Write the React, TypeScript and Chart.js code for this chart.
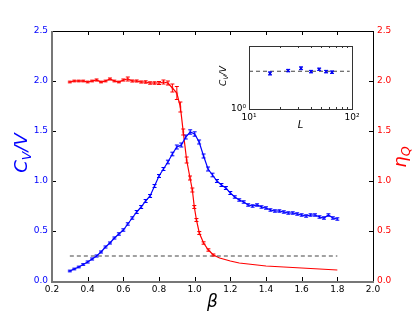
import React, { useEffect, useRef } from 'react';
import { Chart, registerables } from 'chart.js';
Chart.register(...registerables);

// ---------- data ----------
const betaCv = [
  0.3, 0.325, 0.35, 0.375, 0.4, 0.425, 0.45, 0.475, 0.5, 0.525,
  0.55, 0.575, 0.6, 0.625, 0.65, 0.675, 0.7, 0.725, 0.75, 0.775,
  0.8, 0.825, 0.85, 0.875, 0.9, 0.925, 0.95, 0.975, 1.0, 1.025,
  1.05, 1.075, 1.1, 1.125, 1.15, 1.175, 1.2, 1.225, 1.25, 1.275,
  1.3, 1.325, 1.35, 1.375, 1.4, 1.425, 1.45, 1.475, 1.5, 1.525,
  1.55, 1.575, 1.6, 1.625, 1.65, 1.675, 1.7, 1.725, 1.75, 1.775, 1.8,
];
const cvValues = [
  0.10, 0.12, 0.14, 0.165, 0.19, 0.22, 0.25, 0.29, 0.34, 0.38,
  0.43, 0.47, 0.51, 0.57, 0.63, 0.69, 0.74, 0.80, 0.85, 0.95,
  1.05, 1.12, 1.19, 1.27, 1.34, 1.36, 1.44, 1.49, 1.47, 1.39,
  1.25, 1.12, 1.06, 1.00, 0.96, 0.93, 0.88, 0.84, 0.81, 0.79,
  0.76, 0.75, 0.76, 0.74, 0.73, 0.71, 0.70, 0.70, 0.69, 0.68,
  0.68, 0.67, 0.66, 0.65, 0.66, 0.66, 0.64, 0.63, 0.66, 0.63, 0.62,
];
const cvErrors = [
  0.008, 0.008, 0.008, 0.008, 0.01, 0.01, 0.01, 0.01, 0.01, 0.01,
  0.01, 0.012, 0.012, 0.012, 0.012, 0.015, 0.015, 0.015, 0.015, 0.015,
  0.015, 0.015, 0.018, 0.018, 0.02, 0.02, 0.02, 0.022, 0.022, 0.02,
  0.02, 0.02, 0.018, 0.015, 0.015, 0.015, 0.015, 0.012, 0.012, 0.012,
  0.012, 0.012, 0.012, 0.012, 0.012, 0.012, 0.012, 0.012, 0.012, 0.012,
  0.012, 0.012, 0.012, 0.012, 0.012, 0.012, 0.012, 0.012, 0.012, 0.012, 0.012,
];

const betaEta = [
  0.3, 0.325, 0.35, 0.375, 0.4, 0.425, 0.45, 0.475, 0.5, 0.525,
  0.55, 0.575, 0.6, 0.625, 0.65, 0.675, 0.7, 0.725, 0.75, 0.775,
  0.8, 0.825, 0.85, 0.875, 0.9, 0.92, 0.936, 0.955, 0.974, 0.987,
  0.998, 1.01, 1.026, 1.05, 1.077, 1.105, 1.14, 1.2, 1.25, 1.3,
  1.35, 1.4, 1.5, 1.6, 1.7, 1.8,
];
const etaValues = [
  1.99, 2.00, 2.00, 2.00, 1.99, 2.00, 2.01, 1.99, 2.00, 2.02,
  2.00, 1.99, 2.01, 2.02, 2.00, 2.00, 1.99, 1.99, 1.98, 1.98,
  1.98, 1.99, 1.98, 1.93, 1.88, 1.74, 1.49, 1.21, 1.03, 0.91,
  0.74, 0.61, 0.48, 0.38, 0.31, 0.26, 0.23, 0.20, 0.18, 0.17,
  0.16, 0.15, 0.14, 0.13, 0.12, 0.11,
];
const etaErrors = [
  0.008, 0.008, 0.008, 0.008, 0.008, 0.008, 0.01, 0.008, 0.008, 0.01,
  0.008, 0.008, 0.01, 0.02, 0.01, 0.01, 0.01, 0.012, 0.012, 0.012,
  0.015, 0.02, 0.02, 0.04, 0.065, 0.05, 0.03, 0.03, 0.02, 0.02,
  0.015, 0.015, 0.015, 0.012, 0.012, 0.01, 0, 0, 0, 0,
  0, 0, 0, 0, 0, 0,
];

const refBeta = [0.3, 1.8];
const refValue = 0.25;

const xTickValues = [0.2, 0.4, 0.6, 0.8, 1.0, 1.2, 1.4, 1.6, 1.8, 2.0];
const yTickValues = [0.0, 0.5, 1.0, 1.5, 2.0, 2.5];

const insetL = [16, 24, 32, 40, 48, 56, 64];
const insetCv = [1.86, 1.955, 2.036, 1.92, 2.0, 1.92, 1.9];
const insetErr = [0.05, 0.04, 0.05, 0.04, 0.04, 0.04, 0.04];
const insetFitL = [10, 95];
const insetFitValue = 1.93;
const insetXTicks = [10, 100];
const insetXLabels = ['10¹', '10²'];
const insetMinorX = [20, 30, 40, 50, 60, 70, 80, 90];
const insetYTicks = [1];
const insetYLabels = ['10⁰'];

// ---------- helpers ----------
const FONT = '"DejaVu Sans", sans-serif';

function drawMath(ctx: CanvasRenderingContext2D, parts: { t: string; sub?: boolean }[], size: number, color: string) {
  const subSize = size * 0.7;
  const widths = parts.map((p) => {
    ctx.font = `italic ${p.sub ? subSize : size}px ${FONT}`;
    return ctx.measureText(p.t).width;
  });
  const total = widths.reduce((a, b) => a + b, 0);
  let x = -total / 2;
  ctx.fillStyle = color;
  ctx.textBaseline = 'alphabetic';
  ctx.textAlign = 'left';
  parts.forEach((p, i) => {
    ctx.font = `italic ${p.sub ? subSize : size}px ${FONT}`;
    ctx.fillText(p.t, x, p.sub ? size * 0.55 : size * 0.35);
    x += widths[i];
  });
}

const errorBarPlugin = {
  id: 'errorBars',
  afterDatasetsDraw(chart: any) {
    const ctx = chart.ctx;
    chart.data.datasets.forEach((ds: any, i: number) => {
      const errs = ds.errors;
      if (!errs) return;
      const meta = chart.getDatasetMeta(i);
      const yScale = chart.scales[meta.yAxisID];
      const cap = ds.capSize ?? 2;
      ctx.save();
      ctx.strokeStyle = ds.errColor || ds.borderColor;
      ctx.lineWidth = 1;
      meta.data.forEach((pt: any, j: number) => {
        const e = errs[j];
        if (!e) return;
        const v = ds.data[j].y;
        const t = yScale.getPixelForValue(v + e);
        const b = yScale.getPixelForValue(v - e);
        const x = pt.x;
        ctx.beginPath();
        ctx.moveTo(x, t);
        ctx.lineTo(x, b);
        ctx.moveTo(x - cap, t);
        ctx.lineTo(x + cap, t);
        ctx.moveTo(x - cap, b);
        ctx.lineTo(x + cap, b);
        ctx.stroke();
      });
      ctx.restore();
    });
  },
};

const mainFramePlugin = {
  id: 'mainFrame',
  afterDraw(chart: any) {
    const ctx = chart.ctx;
    const { left, right, top, bottom } = chart.chartArea;
    const xs = chart.scales.x;
    const ys = chart.scales.y;
    ctx.save();
    ctx.strokeStyle = '#000';
    ctx.lineWidth = 1;
    ctx.beginPath();
    xTickValues.forEach((v) => {
      const px = Math.round(xs.getPixelForValue(v)) + 0.5;
      ctx.moveTo(px, bottom);
      ctx.lineTo(px, bottom - 4);
      ctx.moveTo(px, top);
      ctx.lineTo(px, top + 4);
    });
    yTickValues.forEach((v) => {
      const py = Math.round(ys.getPixelForValue(v)) + 0.5;
      ctx.moveTo(left, py);
      ctx.lineTo(left + 4, py);
      ctx.moveTo(right, py);
      ctx.lineTo(right - 4, py);
    });
    ctx.stroke();
    // frame
    ctx.beginPath();
    ctx.moveTo(left, top + 0.5);
    ctx.lineTo(right, top + 0.5);
    ctx.moveTo(right + 0.5, top);
    ctx.lineTo(right + 0.5, bottom);
    ctx.stroke();
    ctx.strokeStyle = '#777';
    ctx.lineWidth = 2;
    ctx.beginPath();
    ctx.moveTo(left, top);
    ctx.lineTo(left, bottom + 1);
    ctx.lineTo(right + 1, bottom + 1);
    ctx.stroke();
    // titles
    ctx.save();
    ctx.translate(21, 153);
    ctx.rotate(-Math.PI / 2);
    drawMath(ctx, [{ t: 'C' }, { t: 'V', sub: true }, { t: '/V' }], 18, 'blue');
    ctx.restore();
    ctx.save();
    ctx.translate(400, 157);
    ctx.rotate(-Math.PI / 2);
    drawMath(ctx, [{ t: 'η' }, { t: 'Q', sub: true }], 18, 'red');
    ctx.restore();
    ctx.save();
    ctx.translate((left + right) / 2, 301);
    drawMath(ctx, [{ t: 'β' }], 17, '#000');
    ctx.restore();
    ctx.restore();
  },
};

const insetFramePlugin = {
  id: 'insetFrame',
  beforeDraw(chart: any) {
    const ctx = chart.ctx;
    const { left, right, top, bottom } = chart.chartArea;
    ctx.save();
    ctx.fillStyle = '#fff';
    ctx.fillRect(left, top, right - left, bottom - top);
    ctx.restore();
  },
  afterDraw(chart: any) {
    const ctx = chart.ctx;
    const { left, right, top, bottom } = chart.chartArea;
    const xs = chart.scales.x;
    ctx.save();
    ctx.strokeStyle = '#333';
    ctx.lineWidth = 1;
    ctx.beginPath();
    insetMinorX.forEach((v) => {
      const px = Math.round(xs.getPixelForValue(v)) + 0.5;
      ctx.moveTo(px, bottom);
      ctx.lineTo(px, bottom - 2);
      ctx.moveTo(px, top);
      ctx.lineTo(px, top + 2);
    });
    ctx.stroke();
    ctx.strokeRect(Math.round(left) + 0.5, Math.round(top) + 0.5, Math.round(right - left), Math.round(bottom - top));
    ctx.save();
    ctx.translate(223, 76);
    ctx.rotate(-Math.PI / 2);
    drawMath(ctx, [{ t: 'C' }, { t: 'V', sub: true }, { t: '/V' }], 9, '#000');
    ctx.restore();
    ctx.save();
    ctx.translate((left + right) / 2, 124);
    drawMath(ctx, [{ t: 'L' }], 10, '#000');
    ctx.restore();
    ctx.restore();
  },
};

export default function App() {
  const mainRef = useRef<HTMLCanvasElement>(null);
  const insetRef = useRef<HTMLCanvasElement>(null);

  useEffect(() => {
    const cvData = betaCv.map((b, i) => ({ x: b, y: cvValues[i] }));
    const etaData = betaEta.map((b, i) => ({ x: b, y: etaValues[i] }));
    const refData = refBeta.map((b) => ({ x: b, y: refValue }));

    const main = new Chart(mainRef.current!, {
      type: 'scatter',
      data: {
        datasets: [
          {
            data: refData,
            showLine: true,
            borderColor: '#444',
            borderWidth: 1.1,
            borderDash: [4, 3],
            pointRadius: 0,
            yAxisID: 'y',
          } as any,
          {
            data: cvData,
            showLine: true,
            borderColor: 'blue',
            borderWidth: 1.2,
            pointStyle: 'rect',
            pointRadius: 2,
            pointBackgroundColor: 'rgba(0,0,255,0.22)',
            pointBorderWidth: 0,
            errors: cvErrors,
            capSize: 2,
            yAxisID: 'y',
          } as any,
          {
            data: etaData,
            showLine: true,
            borderColor: 'red',
            borderWidth: 1.2,
            pointStyle: 'rect',
            pointRadius: (c: any) => (etaErrors[c.dataIndex] > 0 ? 2 : 0),
            pointBackgroundColor: 'rgba(255,0,0,0.22)',
            pointBorderWidth: 0,
            errors: etaErrors,
            capSize: 2,
            yAxisID: 'y2',
          } as any,
        ],
      },
      options: {
        responsive: false,
        animation: false,
        devicePixelRatio: 1,
        layout: { padding: { top: 31, left: 0, right: 0, bottom: 0 } },
        plugins: { legend: { display: false }, tooltip: { enabled: false } },
        scales: {
          x: {
            type: 'linear',
            min: 0.2,
            max: 2.0,
            afterBuildTicks: (s: any) => {
              s.ticks = xTickValues.map((v) => ({ value: v }));
            },
            afterFit: (s: any) => {
              s.height = 31;
            },
            grid: { display: false, drawTicks: false },
            border: { display: false },
            ticks: {
              color: '#000',
              font: { family: FONT, size: 9 },
              padding: 3,
              maxRotation: 0,
              autoSkip: false,
              callback: (v: any) => Number(v).toFixed(1),
            },
          },
          y: {
            type: 'linear',
            position: 'left',
            min: 0,
            max: 2.5,
            afterBuildTicks: (s: any) => {
              s.ticks = yTickValues.map((v) => ({ value: v }));
            },
            afterFit: (s: any) => {
              s.width = 52;
            },
            grid: { display: false, drawTicks: false },
            border: { display: false },
            ticks: {
              color: 'blue',
              font: { family: FONT, size: 9 },
              padding: 4,
              callback: (v: any) => Number(v).toFixed(1),
            },
          },
          y2: {
            type: 'linear',
            position: 'right',
            min: 0,
            max: 2.5,
            afterBuildTicks: (s: any) => {
              s.ticks = yTickValues.map((v) => ({ value: v }));
            },
            afterFit: (s: any) => {
              s.width = 42;
            },
            grid: { display: false, drawTicks: false },
            border: { display: false },
            ticks: {
              color: 'red',
              font: { family: FONT, size: 9 },
              padding: 4,
              callback: (v: any) => Number(v).toFixed(1),
            },
          },
        },
      } as any,
      plugins: [errorBarPlugin, mainFramePlugin],
    });

    const insetPts = insetL.map((l, i) => ({ x: l, y: insetCv[i] }));
    const insetFit = insetFitL.map((l) => ({ x: l, y: insetFitValue }));
    const inset = new Chart(insetRef.current!, {
      type: 'scatter',
      data: {
        datasets: [
          {
            data: insetFit,
            showLine: true,
            borderColor: '#444',
            borderWidth: 1.1,
            borderDash: [4, 3],
            pointRadius: 0,
          } as any,
          {
            data: insetPts,
            showLine: false,
            borderColor: '#0000cc',
            pointStyle: 'crossRot',
            pointRadius: 2,
            pointBorderWidth: 1.2,
            pointBorderColor: '#0000cc',
            errors: insetErr,
            capSize: 2,
            errColor: 'blue',
          } as any,
        ],
      },
      options: {
        responsive: false,
        animation: false,
        devicePixelRatio: 1,
        layout: { padding: { top: 46, left: 249 - 40, right: 415 - 352, bottom: 312 - 109 - 20 } },
        plugins: { legend: { display: false }, tooltip: { enabled: false } },
        scales: {
          x: {
            type: 'logarithmic',
            min: 10,
            max: 100,
            afterBuildTicks: (s: any) => {
              s.ticks = insetXTicks.map((v) => ({ value: v }));
            },
            afterFit: (s: any) => {
              s.height = 20;
            },
            grid: { display: false, drawTicks: false },
            border: { display: false },
            ticks: {
              color: '#000',
              font: { family: FONT, size: 9 },
              padding: 3,
              maxRotation: 0,
              minRotation: 0,
              autoSkip: false,
              callback: (v: any) => insetXLabels[insetXTicks.indexOf(Number(v))] ?? '',
            },
          },
          y: {
            type: 'logarithmic',
            min: 1,
            max: 3,
            afterBuildTicks: (s: any) => {
              s.ticks = insetYTicks.map((v) => ({ value: v }));
            },
            afterFit: (s: any) => {
              s.width = 40;
            },
            grid: { display: false, drawTicks: false },
            border: { display: false },
            ticks: {
              color: '#000',
              font: { family: FONT, size: 9 },
              padding: 3,
              autoSkip: false,
              callback: (v: any) => insetYLabels[insetYTicks.indexOf(Number(v))] ?? '',
            },
          },
        },
      } as any,
      plugins: [insetFramePlugin, errorBarPlugin],
    });

    return () => {
      main.destroy();
      inset.destroy();
    };
  }, []);

  return (
    <div style={{ position: 'absolute', left: 0, top: 0, width: 415, height: 312, background: '#fff' }}>
      <canvas ref={mainRef} width={415} height={312} style={{ position: 'absolute', left: 0, top: 0 }} />
      <canvas
        ref={insetRef}
        width={415}
        height={312}
        style={{ position: 'absolute', left: 0, top: 0, pointerEvents: 'none' }}
      />
    </div>
  );
}
